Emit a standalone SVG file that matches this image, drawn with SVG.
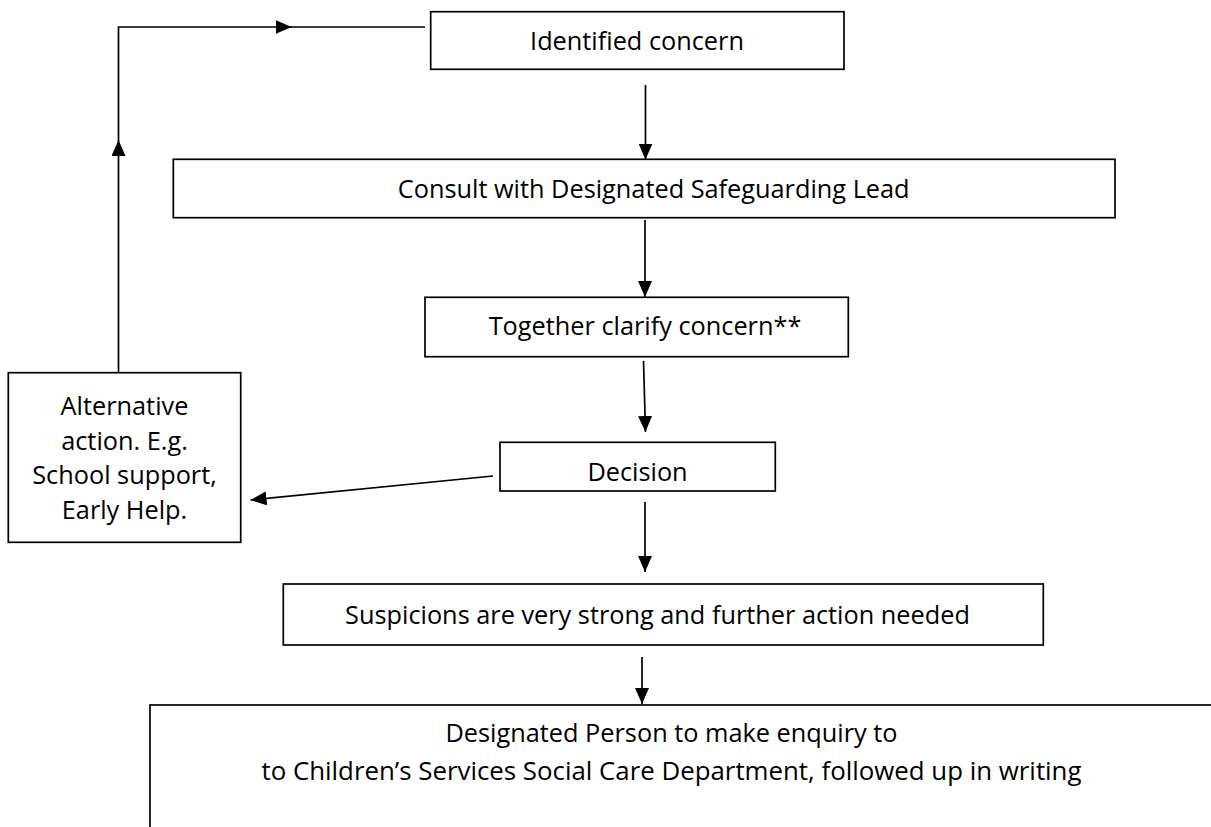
<svg xmlns="http://www.w3.org/2000/svg" width="1211" height="827" viewBox="0 0 1211 827">
<style>
  .box { fill: #ffffff; stroke: #000000; stroke-width: 1.7; }
  .lbl { font-family: "Open Sans", "Noto Sans", "Liberation Sans", sans-serif; font-size: 25.3px; fill: #000000; text-anchor: middle; }
  .ln { fill: none; stroke: #000000; stroke-width: 1.7; }
</style>
<defs>
  <marker id="ah" markerUnits="userSpaceOnUse" markerWidth="17" markerHeight="14" refX="16" refY="7" orient="auto">
    <path d="M0,0 L16,7 L0,14 z" fill="#000000"/>
  </marker>
</defs>
<rect width="1211" height="827" fill="#ffffff"/>

<g id="connectors">
  <!-- loop from alternative action back to identified concern -->
  <path class="ln" d="M118.5,373 L118.5,140" marker-end="url(#ah)"/>
  <path class="ln" d="M118.5,141 L118.5,27 L291.5,27" marker-end="url(#ah)"/>
  <path class="ln" d="M290,27 L425,27"/>
  <!-- main flow -->
  <path class="ln" d="M645.5,85 L645.5,159.5" marker-end="url(#ah)"/>
  <path class="ln" d="M645,220 L645,297" marker-end="url(#ah)"/>
  <path class="ln" d="M643.5,361 L645.5,432" marker-end="url(#ah)"/>
  <path class="ln" d="M493,476 L250.5,500" marker-end="url(#ah)"/>
  <path class="ln" d="M645,502 L645,572" marker-end="url(#ah)"/>
  <path class="ln" d="M642,657 L642,704" marker-end="url(#ah)"/>
</g>

<g id="identified">
  <rect class="box" x="430.7" y="11.7" width="413.3" height="57.6"/>
  <text class="lbl" x="637" y="50">Identified concern</text>
</g>

<g id="consult">
  <rect class="box" x="173.3" y="159.3" width="941.7" height="58.4"/>
  <text class="lbl" x="653.7" y="198.3">Consult with Designated Safeguarding Lead</text>
</g>

<g id="together">
  <rect class="box" x="425" y="297.3" width="423.3" height="59.4"/>
  <text class="lbl" x="645" y="335">Together clarify concern**</text>
</g>

<g id="decision">
  <rect class="box" x="500" y="442.3" width="275.3" height="48.7"/>
  <text class="lbl" x="637.5" y="481">Decision</text>
</g>

<g id="alternative">
  <rect class="box" x="8.3" y="372.7" width="232.4" height="169.6"/>
  <text class="lbl" x="124.5" y="415">Alternative</text>
  <text class="lbl" x="124.5" y="449.5">action. E.g.</text>
  <text class="lbl" x="124.5" y="484">School support,</text>
  <text class="lbl" x="124.5" y="518.5">Early Help.</text>
</g>

<g id="suspicions">
  <rect class="box" x="283.3" y="584" width="760" height="61"/>
  <text class="lbl" x="657.5" y="624">Suspicions are very strong and further action needed</text>
</g>

<g id="designated">
  <rect class="box" x="150" y="705" width="1090" height="160"/>
  <text class="lbl" x="671.5" y="742" textLength="452" lengthAdjust="spacingAndGlyphs">Designated Person to make enquiry to</text>
  <text class="lbl" x="671.5" y="780" textLength="820" lengthAdjust="spacingAndGlyphs">to Children’s Services Social Care Department, followed up in writing</text>
</g>
</svg>
